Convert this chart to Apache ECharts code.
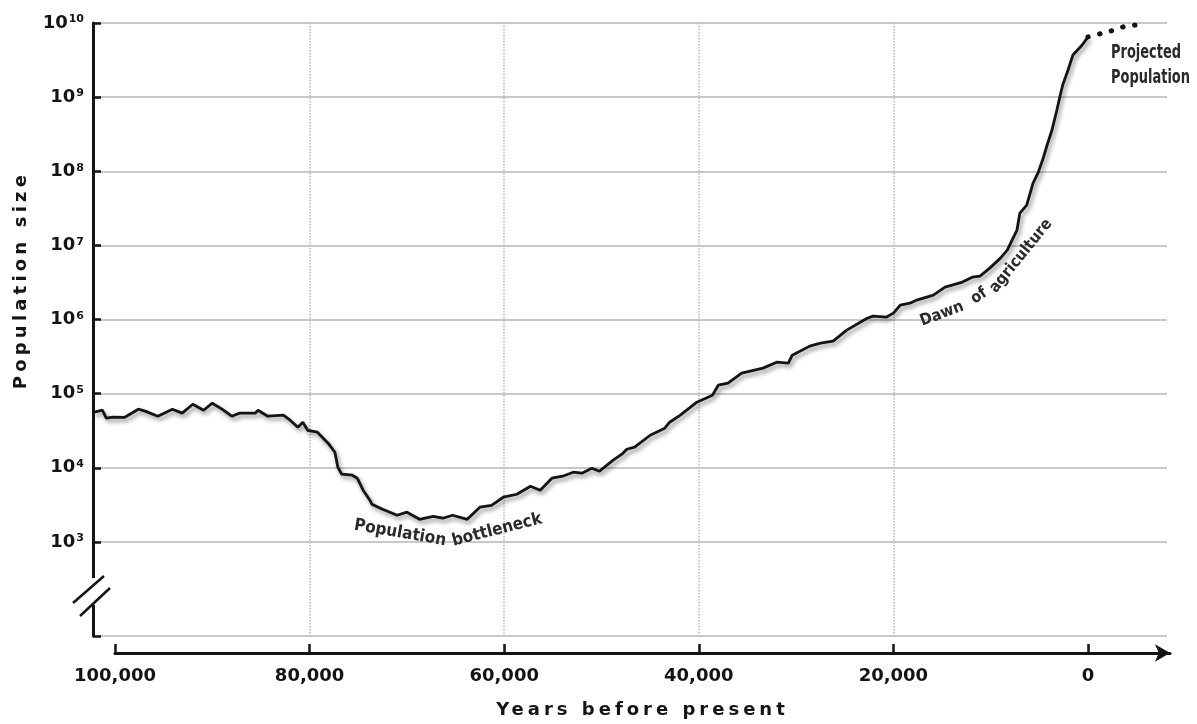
<!DOCTYPE html>
<html><head><meta charset="utf-8">
<script src="https://cdn.jsdelivr.net/npm/echarts@6/dist/echarts.min.js"></script>
<style>html,body{margin:0;padding:0;background:#fff}#c{width:1197px;height:724px}</style>
</head><body><div id="c"></div>
<script>
// ---- data (years before present, population size) ----
const years = [
  102200, 101300, 100900, 100200, 99000, 97600, 96900, 95600, 94100, 93100,
  92000, 90900, 90000, 89000, 88000, 87200, 85600, 85300, 84300, 82700,
  82000, 81200, 80700, 80200, 79200, 78100, 77400, 77100, 76700, 75600,
  75100, 74500, 73800, 73600, 72500, 71000, 70000, 68700, 67300, 66300,
  65300, 63800, 62500, 61300, 60100, 58700, 57300, 56300, 55100, 54000,
  52900, 52000, 51000, 50200, 48800, 47800, 47400, 46600, 45000, 43500,
  43000, 41900, 40200, 38600, 38000, 37000, 35600, 33400, 32000, 30800,
  30400, 28600, 27500, 26200, 24800, 22700, 22100, 20700, 20000, 19300,
  18300, 17600, 15900, 14700, 12900, 11900, 11100, 10100, 9000, 8300,
  7800, 7300, 7000, 6300, 5650, 5100, 4600, 4200, 3700, 3200,
  2900, 2600, 2050, 1550, 600, 0
];
const population = [
  56000, 60000, 46700, 48200, 48000, 61800, 58100, 49700, 61800, 54600,
  72100, 59800, 74400, 61800, 49700, 54600, 54600, 59800, 49700, 51300,
  43900, 35300, 41200, 32100, 30200, 21500, 16200, 10200, 8200, 7950,
  7240, 4990, 3660, 3230, 2760, 2290, 2520, 2020, 2220, 2090,
  2290, 2020, 2940, 3120, 4010, 4400, 5650, 4990, 7240, 7710,
  8730, 8460, 9880, 9000, 12700, 15700, 17800, 19000, 27500, 34200,
  41200, 51300, 76800, 95400, 130000, 139000, 189000, 221000, 266000, 258000,
  331000, 438000, 481000, 512000, 720000, 1040000, 1110000, 1080000, 1220000, 1560000,
  1660000, 1830000, 2130000, 2740000, 3200000, 3730000, 3850000, 4940000, 6740000, 8650000,
  11800000, 16100000, 27300000, 35000000, 69300000, 97600000, 151000000, 226000000, 360000000, 670000000,
  1000000000, 1460000000, 2320000000, 3700000000, 5050000000, 6500000000
];
const projectedYears = [0, -1500, -2700, -4000, -5200];
const projectedPopulation = [6500000000, 7300000000, 8050000000, 9100000000, 9400000000];
const xTickValues = [100000, 80000, 60000, 40000, 20000, 0];
const yTickExponents = [3, 4, 5, 6, 7, 8, 9, 10];

// ---- axis ranges ----
const X_PLOT_MIN = -8118, X_PLOT_MAX = 102261;
const X_AXIS_MIN = -8427, X_AXIS_MAX = 100000;
const Y_MIN = Math.pow(10, 1.7314), Y_MAX = 1e10;

const yTickValues = yTickExponents.map(e => Math.pow(10, e));
const mainData = years.map((y, i) => [y, population[i]]);
const projData = projectedYears.map((y, i) => [y, projectedPopulation[i]]);

const INK = '#141414';
const LABEL_FONT = '"DejaVu Sans", sans-serif';
const NOTE_FONT = '"Liberation Sans Narrow", "DejaVu Sans Condensed", "Roboto Condensed", sans-serif';

// tracked-out axis titles (letter spacing, as in the reference typography)
const TRACKED = {'Years before present': '4px', 'Population size': '4.2px'};
(function () {
  const proto = CanvasRenderingContext2D.prototype;
  const origFill = proto.fillText;
  proto.fillText = function (t, x, y, w) {
    const ls = TRACKED[t];
    if (ls && 'letterSpacing' in this) {
      this.save();
      this.letterSpacing = ls;
      if (w === undefined) origFill.call(this, t, x, y); else origFill.call(this, t, x, y, w);
      this.restore();
      return;
    }
    if (w === undefined) return origFill.call(this, t, x, y);
    return origFill.call(this, t, x, y, w);
  };
})();

const chart = echarts.init(document.getElementById('c'), null, {renderer: 'canvas'});
chart.setOption({
  animation: false,
  backgroundColor: '#ffffff',
  grid: [
    {left: 93, right: 30, top: 23, bottom: 88},
    {left: 115, right: 27, top: 23, bottom: 88}
  ],
  xAxis: [
    {
      gridIndex: 0, type: 'value', inverse: true, min: X_PLOT_MIN, max: X_PLOT_MAX,
      axisLine: {show: false, onZero: false}, axisLabel: {show: false},
      axisTick: {show: false, customValues: xTickValues},
      splitLine: {show: true, showMinLine: false, showMaxLine: false,
        lineStyle: {type: 'dotted', color: '#b8b8b8', width: 1.5}}
    },
    {
      gridIndex: 1, type: 'value', inverse: true, min: X_AXIS_MIN, max: X_AXIS_MAX, offset: 19,
      axisLine: {show: true, onZero: false, lineStyle: {color: INK, width: 3}, symbol: ['none', 'arrow'], symbolSize: [13, 15]},
      axisTick: {show: true, inside: true, length: 9, lineStyle: {color: INK, width: 2.5}, customValues: xTickValues},
      axisLabel: {customValues: xTickValues, margin: 14,
        formatter: v => Number(v).toLocaleString('en-US'),
        fontFamily: LABEL_FONT, fontWeight: 'bold', fontSize: 18, color: INK},
      splitLine: {show: false},
      name: 'Years before present', nameLocation: 'middle', nameGap: 48,
      nameTextStyle: {fontFamily: LABEL_FONT, fontWeight: 'bold', fontSize: 18, color: INK}
    }
  ],
  yAxis: [
    {
      gridIndex: 0, type: 'log', logBase: 10, min: Y_MIN, max: Y_MAX,
      axisLine: {show: true, onZero: false, lineStyle: {color: INK, width: 3}},
      axisTick: {show: true, inside: true, length: 8, lineStyle: {color: INK, width: 2.5},
        customValues: [Y_MIN].concat(yTickValues)},
      axisLabel: {customValues: yTickValues, margin: 9,
        formatter: v => '{b|10}{e|' + Math.round(Math.log10(v)) + '}',
        rich: {
          b: {fontFamily: LABEL_FONT, fontWeight: 'bold', fontSize: 18, color: INK},
          e: {fontFamily: LABEL_FONT, fontWeight: 'bold', fontSize: 11, color: INK, verticalAlign: 'top', padding: [0, 0, 0, 1]}
        }},
      splitLine: {show: true, lineStyle: {color: '#c8c8c8', width: 2}}
    },
    {gridIndex: 1, type: 'value', show: false}
  ],
  series: [
    {
      type: 'line', xAxisIndex: 0, yAxisIndex: 0, data: mainData,
      showSymbol: false, smooth: false,
      lineStyle: {color: INK, width: 2.8, shadowColor: 'rgba(0,0,0,0.45)', shadowBlur: 4, shadowOffsetX: 2, shadowOffsetY: 3},
      z: 5
    },
    {
      type: 'line', xAxisIndex: 0, yAxisIndex: 0, data: projData,
      showSymbol: false, smooth: true,
      lineStyle: {color: INK, width: 5, type: [0.5, 11.5], cap: 'round'},
      z: 5
    }
  ],
  graphic: [
    {type: 'rect', z: 100, shape: {x: 86, y: 578, width: 14, height: 27}, style: {fill: '#ffffff'}},
    {type: 'line', z: 101, shape: {x1: 73, y1: 603, x2: 104, y2: 576}, style: {stroke: INK, lineWidth: 2.5}},
    {type: 'line', z: 101, shape: {x1: 80, y1: 616, x2: 110, y2: 588}, style: {stroke: INK, lineWidth: 2.5}},
    {type: 'text', z: 100, x: 21, y: 280, rotation: Math.PI / 2,
      style: {text: 'Population size', font: 'bold 18px ' + LABEL_FONT, fill: INK, textAlign: 'center', textVerticalAlign: 'middle'}},
    {type: 'text', z: 100, x: 400, y: 533, rotation: -0.17,
      style: {text: 'Population', font: 'bold 17px ' + NOTE_FONT, fill: '#2a2a2a', textAlign: 'center', textVerticalAlign: 'middle'}},
    {type: 'text', z: 100, x: 497, y: 530, rotation: 0.25,
      style: {text: 'bottleneck', font: 'bold 17px ' + NOTE_FONT, fill: '#2a2a2a', textAlign: 'center', textVerticalAlign: 'middle'}},
    {type: 'text', z: 100, x: 942, y: 314, rotation: 0.36,
      style: {text: 'Dawn', font: 'bold 16px ' + NOTE_FONT, fill: '#2a2a2a', textAlign: 'center', textVerticalAlign: 'middle'}},
    {type: 'text', z: 100, x: 979, y: 296, rotation: 0.6,
      style: {text: 'of', font: 'bold 16px ' + NOTE_FONT, fill: '#2a2a2a', textAlign: 'center', textVerticalAlign: 'middle'}},
    {type: 'text', z: 100, x: 1021, y: 256, rotation: 0.89,
      style: {text: 'agriculture', font: 'bold 16px ' + NOTE_FONT, fill: '#2a2a2a', textAlign: 'center', textVerticalAlign: 'middle'}},
    {type: 'text', z: 100, x: 1111, y: 53, scaleX: 0.76,
      style: {text: 'Projected', font: 'bold 19px ' + NOTE_FONT, fill: '#2a2a2a', textAlign: 'left', textVerticalAlign: 'middle'}},
    {type: 'text', z: 100, x: 1111, y: 78, scaleX: 0.76,
      style: {text: 'Population', font: 'bold 19px ' + NOTE_FONT, fill: '#2a2a2a', textAlign: 'left', textVerticalAlign: 'middle'}}
  ]
});
</script>
</body></html>
